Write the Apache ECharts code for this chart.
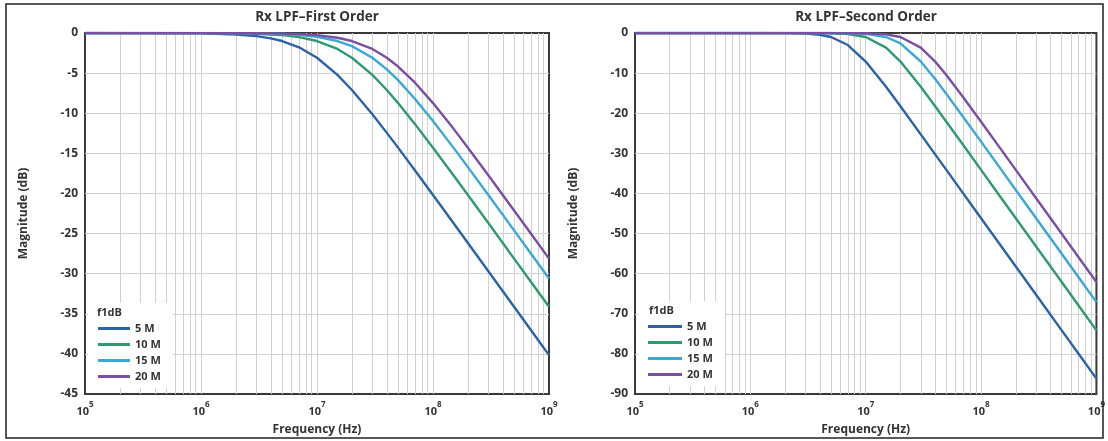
<!DOCTYPE html>
<html>
<head>
<meta charset="utf-8">
<script src="https://cdn.jsdelivr.net/npm/echarts@6/dist/echarts.min.js"></script>
<style>
  html, body { margin: 0; padding: 0; background: #fff; }
  #chart { width: 1108px; height: 441px; }
</style>
</head>
<body>
<div id="chart"></div>
<script>
// frequency points (Hz) shared by every curve
const freqs = [1e5, 1e6, 2e6, 3e6, 4e6, 5e6, 7e6, 1e7, 1.5e7, 2e7, 3e7, 4e7, 5e7, 7e7, 1e8, 1.5e8, 2e8, 3e8, 5e8, 7e8, 1e9];

const seriesNames = ['5 M', '10 M', '15 M', '20 M'];
const colors = ['#2c62a6', '#2f9a6b', '#3aa8d6', '#7a4ea0'];

// Rx LPF - first order, magnitude in dB
const first5 = [0, -0.05, -0.18, -0.39, -0.67, -1.0, -1.78, -3.09, -5.22, -7.11, -10.13, -12.45, -14.29, -17.13, -20.19, -23.69, -26.18, -29.69, -34.13, -37.05, -40.15];
const first10 = [0, -0.01, -0.05, -0.10, -0.18, -0.27, -0.52, -1.0, -1.99, -3.09, -5.22, -7.11, -8.74, -11.36, -14.30, -17.73, -20.19, -23.69, -28.12, -31.03, -34.13];
const first15 = [0, -0.01, -0.02, -0.05, -0.08, -0.12, -0.24, -0.47, -1.0, -1.64, -3.09, -4.53, -5.88, -8.22, -10.97, -14.29, -16.72, -20.19, -24.60, -27.51, -30.60];
const first20 = [0, 0, -0.01, -0.03, -0.05, -0.07, -0.14, -0.27, -0.59, -1.0, -1.99, -3.09, -4.18, -6.20, -8.74, -11.92, -14.30, -17.73, -22.12, -25.02, -28.12];

// Rx LPF - second order, magnitude in dB
const second5 = [0, 0, -0.03, -0.14, -0.44, -1.0, -3.0, -7.11, -13.42, -18.28, -25.27, -30.26, -34.13, -39.98, -46.17, -53.22, -58.21, -65.26, -74.13, -79.98, -86.17];
const second10 = [0, 0, 0, -0.01, -0.03, -0.07, -0.26, -1.0, -3.64, -7.11, -13.42, -18.28, -22.11, -27.94, -34.13, -41.18, -46.17, -53.22, -62.09, -67.93, -74.13];
const second15 = [0, 0, 0, 0, -0.01, -0.01, -0.05, -0.22, -1.0, -2.60, -7.11, -11.49, -15.18, -20.93, -27.09, -34.13, -39.13, -46.17, -55.05, -60.89, -67.09];
const second20 = [0, 0, 0, 0, 0, 0, -0.02, -0.07, -0.34, -1.0, -3.64, -7.11, -10.46, -16.0, -22.11, -29.14, -34.13, -41.18, -50.05, -55.89, -62.09];

// x-axis decade ticks and the minor grid multipliers
const decades = [1e5, 1e6, 1e7, 1e8, 1e9];
const minorSteps = [2, 3, 4, 5, 6, 7, 8, 9];

const textColor = '#333';
const gridColor = '#d2d2d2';
const font = '"Open Sans", "DejaVu Sans", sans-serif';

const minorLines = [];
decades.slice(0, -1).forEach(d => minorSteps.forEach(m => minorLines.push({ xAxis: m * d })));

const makeX = (idx) => ({
  type: 'log', gridIndex: idx, logBase: 10,
  min: decades[0], max: decades[decades.length - 1],
  name: 'Frequency (Hz)', nameLocation: 'middle', nameGap: 30,
  nameTextStyle: { color: textColor, fontSize: 12, fontWeight: 'bold', fontFamily: font },
  axisLine: { show: false }, axisTick: { show: false },
  axisLabel: {
    margin: 7,
    formatter: v => '{b|10}{s|' + Math.round(Math.log10(v)) + '}',
    rich: {
      b: { color: textColor, fontSize: 11, fontWeight: 'bold', fontFamily: font, lineHeight: 16, verticalAlign: 'bottom' },
      s: { color: textColor, fontSize: 8, fontWeight: 'bold', fontFamily: font, lineHeight: 16, verticalAlign: 'top' }
    }
  },
  splitLine: { show: true, showMinLine: false, showMaxLine: false, lineStyle: { color: gridColor, width: 1 } }
});

const makeY = (idx, min, interval) => ({
  type: 'value', gridIndex: idx, min: min, max: 0, interval: interval,
  name: 'Magnitude (dB)', nameLocation: 'middle', nameGap: 55,
  nameTextStyle: { color: textColor, fontSize: 12, fontWeight: 'bold', fontFamily: font },
  axisLine: { show: false }, axisTick: { show: false },
  axisLabel: { margin: 7, color: textColor, fontSize: 12, fontWeight: 'bold', fontFamily: font },
  splitLine: { show: true, showMinLine: false, showMaxLine: false, lineStyle: { color: gridColor, width: 1 } }
});

const curve = (name, vals, idx, color) => ({
  name: name, type: 'line', xAxisIndex: idx, yAxisIndex: idx,
  data: freqs.map((f, i) => [f, vals[i]]),
  showSymbol: false, smooth: false,
  lineStyle: { color: color, width: 2.4, join: 'round' }, itemStyle: { color: color },
  z: 5
});

const gridSeries = (idx) => ({
  name: '_minor', type: 'line', xAxisIndex: idx, yAxisIndex: idx, data: [], z: 1,
  markLine: {
    z: 1, silent: true, symbol: ['none', 'none'], label: { show: false },
    lineStyle: { color: gridColor, width: 1, type: 'solid' },
    emphasis: { disabled: true },
    data: minorLines
  }
});

const makeLegend = (left, top, itemWidth) => ({
  orient: 'vertical', left: left, top: top, data: seriesNames, z: 6,
  icon: 'rect', itemWidth: itemWidth, itemHeight: 3, itemGap: 3,
  padding: [19, 12, 5, 10], backgroundColor: '#fff',
  textStyle: { color: textColor, fontSize: 11, fontWeight: 'bold', fontFamily: font, lineHeight: 13 }
});

const textEl = (text, x, y, align, size) => ({
  type: 'text', x: x, y: y, z: 100,
  style: { text: text, fill: textColor, font: 'bold ' + size + 'px ' + font, align: align, verticalAlign: 'middle',
           textAlign: align, textVerticalAlign: 'middle' }
});

const option = {
  animation: false,
  backgroundColor: '#fff',
  grid: [
    { left: 85, right: 559, top: 33, bottom: 46, show: true, borderColor: '#3a3a3a', borderWidth: 2, backgroundColor: 'transparent' },
    { left: 635, right: 10, top: 33, bottom: 47, show: true, borderColor: '#3a3a3a', borderWidth: 2, backgroundColor: 'transparent' }
  ],
  legend: [makeLegend(88, 303, 32), makeLegend(638, 301, 34)],
  xAxis: [makeX(0), makeX(1)],
  yAxis: [makeY(0, -45, 5), makeY(1, -90, 10)],
  graphic: [
    { type: 'rect', z: 100, shape: { x: 6, y: 4, width: 1097, height: 434 },
      style: { fill: 'none', stroke: '#222', lineWidth: 1.5 } },
    textEl('Rx LPF–First Order', 317, 17, 'center', 13.5),
    textEl('Rx LPF–Second Order', 866, 17, 'center', 13.5),
    textEl('f1dB', 97, 313, 'left', 11),
    textEl('f1dB', 649, 311, 'left', 11)
  ],
  series: [
    gridSeries(0), gridSeries(1),
    curve(seriesNames[0], first5, 0, colors[0]),
    curve(seriesNames[1], first10, 0, colors[1]),
    curve(seriesNames[2], first15, 0, colors[2]),
    curve(seriesNames[3], first20, 0, colors[3]),
    curve(seriesNames[0], second5, 1, colors[0]),
    curve(seriesNames[1], second10, 1, colors[1]),
    curve(seriesNames[2], second15, 1, colors[2]),
    curve(seriesNames[3], second20, 1, colors[3])
  ]
};

window.addEventListener('load', () => {
  const chart = echarts.init(document.getElementById('chart'), null, { renderer: 'canvas' });
  chart.setOption(option);
});
</script>
</body>
</html>
